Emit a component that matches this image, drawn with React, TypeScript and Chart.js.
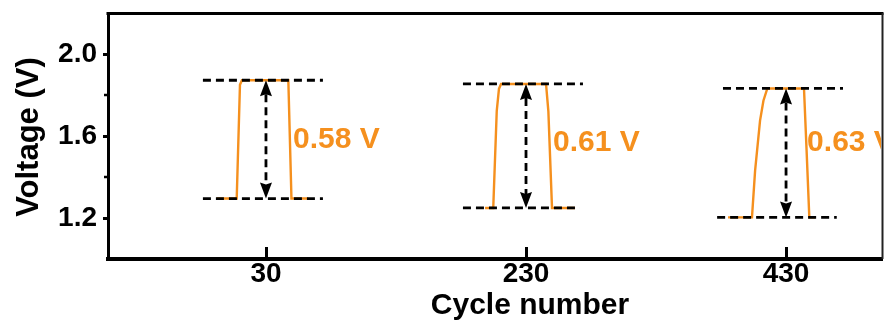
import React, { useEffect, useRef } from 'react';
import { Chart, registerables } from 'chart.js';

Chart.register(...registerables);

// ---- Axis ticks ----
const cycleTicks = [30, 230, 430];
const cycleLabels = ['30', '230', '430'];
const voltageTicks = [1.2, 1.6, 2.0];
const voltageMinorTicks = [1.4, 1.8];

// ---- Voltage profiles (x in cycle-axis units, y in V) ----
const profile30X = [-7.9, 7.5, 10.0, 11.5, 47.2, 49.6, 62.5];
const profile30V = [1.295, 1.295, 1.85, 1.872, 1.872, 1.295, 1.295];

const profile230X = [198.5, 204.8, 207.5, 209.2, 210.8, 245.4, 247.2, 250.0, 267.7];
const profile230V = [1.249, 1.249, 1.723, 1.83, 1.854, 1.854, 1.72, 1.249, 1.249];

const profile430X = [385.4, 403.8, 406.2, 410.0, 412.6, 415.6, 443.8, 445.8, 447.9, 452.3];
const profile430V = [1.203, 1.203, 1.431, 1.675, 1.772, 1.832, 1.832, 1.53, 1.203, 1.203];

// ---- Reference levels (dashed lines) ----
const topLevel = [1.872, 1.854, 1.832];
const bottomLevel = [1.295, 1.249, 1.203];
const topLineStart = [-18.5, 181.5, 381.5];
const topLineEnd = [73.8, 273.8, 473.8];
const bottomLineStart = [-18.5, 181.5, 377.0];
const bottomLineEnd = [73.8, 271.5, 469.0];

// ---- Gap annotations ----
const gapLabels = ['0.58 V', '0.61 V', '0.63 V'];
const gapLabelX = [50.8, 250.8, 446.2];
const gapLabelV = [1.582, 1.567, 1.567];

const ORANGE = '#F5901E';
const FONT = '"Liberation Sans", Arial, Helvetica, sans-serif';

const toPts = (xs: number[], ys: number[]) => xs.map((x, i) => ({ x, y: ys[i] }));

const decorPlugin = {
  id: 'decor',
  afterDatasetsDraw(chart: any) {
    const { ctx, chartArea } = chart;
    const xs = chart.scales.x;
    const ys = chart.scales.y;
    ctx.save();

    // double-headed dashed arrows
    for (let i = 0; i < cycleTicks.length; i++) {
      const px = xs.getPixelForValue(cycleTicks[i]);
      const pt = ys.getPixelForValue(topLevel[i]);
      const pb = ys.getPixelForValue(bottomLevel[i]);
      const head = 16;
      const half = 6;
      ctx.strokeStyle = '#000';
      ctx.lineWidth = 2.8;
      ctx.setLineDash([8, 5]);
      ctx.beginPath();
      ctx.moveTo(px, pt + head - 2);
      ctx.lineTo(px, pb - head + 2);
      ctx.stroke();
      ctx.setLineDash([]);
      ctx.fillStyle = '#000';
      ctx.beginPath();
      ctx.moveTo(px, pt);
      ctx.lineTo(px - half, pt + head);
      ctx.lineTo(px, pt + head - 2);
      ctx.lineTo(px + half, pt + head);
      ctx.closePath();
      ctx.fill();
      ctx.beginPath();
      ctx.moveTo(px, pb);
      ctx.lineTo(px - half, pb - head);
      ctx.lineTo(px, pb - head + 2);
      ctx.lineTo(px + half, pb - head);
      ctx.closePath();
      ctx.fill();
    }

    // gap labels (clipped to the frame)
    ctx.save();
    ctx.beginPath();
    ctx.rect(chartArea.left, chartArea.top, chartArea.right - chartArea.left - 1, chartArea.bottom - chartArea.top);
    ctx.clip();
    ctx.fillStyle = ORANGE;
    ctx.font = `bold 30px ${FONT}`;
    ctx.textAlign = 'left';
    ctx.textBaseline = 'middle';
    for (let i = 0; i < gapLabels.length; i++) {
      ctx.fillText(gapLabels[i], xs.getPixelForValue(gapLabelX[i]), ys.getPixelForValue(gapLabelV[i]));
    }
    ctx.restore();

    // inward x tick marks
    ctx.strokeStyle = '#000';
    ctx.lineWidth = 3;
    for (const v of cycleTicks) {
      const px = Math.round(xs.getPixelForValue(v)) + 0.5;
      ctx.beginPath();
      ctx.moveTo(px, chartArea.bottom - 12);
      ctx.lineTo(px, chartArea.bottom);
      ctx.stroke();
    }

    // small minor y ticks
    ctx.lineWidth = 2.5;
    for (const v of voltageMinorTicks) {
      const py = ys.getPixelForValue(v);
      ctx.beginPath();
      ctx.moveTo(chartArea.left - 4, py);
      ctx.lineTo(chartArea.left, py);
      ctx.stroke();
    }

    // top and right frame
    ctx.lineWidth = 3;
    ctx.beginPath();
    ctx.moveTo(chartArea.left - 1.5, chartArea.top + 0.5);
    ctx.lineTo(chartArea.right + 1.5, chartArea.top + 0.5);
    ctx.stroke();
    ctx.strokeStyle = '#222';
    ctx.lineWidth = 2;
    ctx.beginPath();
    ctx.moveTo(chartArea.right + 0.5, chartArea.top);
    ctx.lineTo(chartArea.right + 0.5, chartArea.bottom);
    ctx.stroke();

    // axis titles
    ctx.fillStyle = '#000';
    ctx.font = `bold 30px ${FONT}`;
    ctx.textAlign = 'center';
    ctx.textBaseline = 'alphabetic';
    ctx.fillText('Cycle number', 530, 314);
    ctx.save();
    ctx.translate(38, 137);
    ctx.rotate(-Math.PI / 2);
    ctx.font = `bold 31px ${FONT}`;
    ctx.fillText('Voltage (V)', 0, 0);
    ctx.restore();

    ctx.restore();
  },
};

export default function App() {
  const canvasRef = useRef<HTMLCanvasElement | null>(null);

  useEffect(() => {
    const canvas = canvasRef.current;
    if (!canvas) return;

    const profiles = [
      toPts(profile30X, profile30V),
      toPts(profile230X, profile230V),
      toPts(profile430X, profile430V),
    ];

    const datasets: any[] = [];
    for (let i = 0; i < cycleTicks.length; i++) {
      datasets.push({
        data: [
          { x: topLineStart[i], y: topLevel[i] },
          { x: topLineEnd[i], y: topLevel[i] },
        ],
        borderColor: '#000',
        borderWidth: 2.8,
        borderDash: [8, 5],
        pointRadius: 0,
        order: 0,
      });
      datasets.push({
        data: [
          { x: bottomLineStart[i], y: bottomLevel[i] },
          { x: bottomLineEnd[i], y: bottomLevel[i] },
        ],
        borderColor: '#000',
        borderWidth: 2.8,
        borderDash: [8, 5],
        pointRadius: 0,
        order: 0,
      });
      datasets.push({
        data: profiles[i],
        borderColor: ORANGE,
        borderWidth: 2.4,
        pointRadius: 0,
        tension: 0,
        order: 1,
      });
    }

    const chart = new Chart(canvas, {
      type: 'line',
      data: { datasets },
      options: {
        animation: false,
        responsive: false,
        devicePixelRatio: 1,
        layout: { padding: { top: 13, right: 3, left: 0, bottom: 0 } },
        plugins: {
          legend: { display: false },
          tooltip: { enabled: false },
          title: { display: false },
        },
        scales: {
          x: {
            type: 'linear',
            min: -91.5,
            max: 503.8,
            afterBuildTicks: (s: any) => {
              s.ticks = cycleTicks.map((v) => ({ value: v }));
            },
            afterFit: (s: any) => {
              s.height = 61;
              s.paddingLeft = 0;
              s.paddingRight = 0;
            },
            ticks: {
              autoSkip: false,
              maxRotation: 0,
              padding: -2,
              color: '#000',
              font: { family: FONT, size: 28, weight: 'bold' },
              callback: (v: any) => cycleLabels[cycleTicks.indexOf(Number(v))] ?? '',
            },
            grid: { drawOnChartArea: false, drawTicks: false },
            border: { display: true, color: '#000', width: 4 },
          },
          y: {
            type: 'linear',
            min: 1.0,
            max: 2.2,
            afterBuildTicks: (s: any) => {
              s.ticks = voltageTicks.map((v) => ({ value: v }));
            },
            afterFit: (s: any) => {
              s.width = 108;
              s.paddingTop = 0;
              s.paddingBottom = 0;
            },
            ticks: {
              padding: 6,
              color: '#000',
              font: { family: FONT, size: 28, weight: 'bold' },
              callback: (v: any) => Number(v).toFixed(1),
            },
            grid: {
              drawOnChartArea: false,
              drawTicks: true,
              tickLength: 5,
              tickWidth: 3,
              tickColor: '#000',
            },
            border: { display: true, color: '#000', width: 3 },
          },
        },
      },
      plugins: [decorPlugin],
    } as any);

    return () => chart.destroy();
  }, []);

  return (
    <div style={{ position: 'fixed', left: 0, top: 0, width: 885, height: 320, background: '#fff' }}>
      <canvas ref={canvasRef} width={885} height={320} style={{ width: 885, height: 320, display: 'block' }} />
    </div>
  );
}
